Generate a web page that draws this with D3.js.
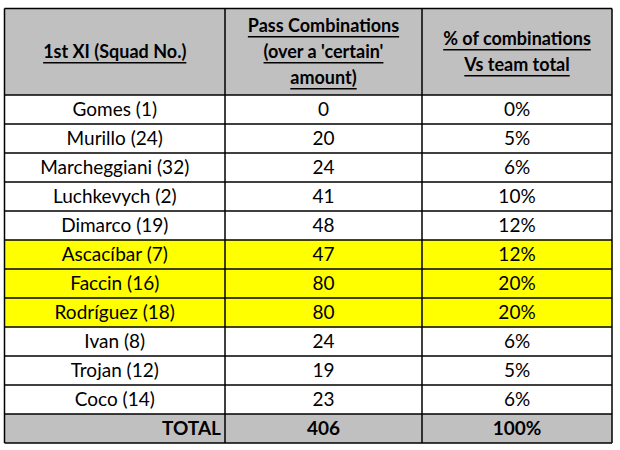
<!DOCTYPE html>
<html><head><meta charset="utf-8">
<script src="https://cdn.jsdelivr.net/npm/d3@7"></script>
<style>body{margin:0;background:#fff}</style></head>
<body><svg id="c" width="620" height="450"></svg>
<script>
const headers = [["1st XI (Squad No.)"], ["Pass Combinations","(over a 'certain'","amount)"], ["% of combinations","Vs team total"]];
const players = ["Gomes (1)","Murillo (24)","Marcheggiani (32)","Luchkevych (2)","Dimarco (19)","Ascacíbar (7)","Faccin (16)","Rodríguez (18)","Ivan (8)","Trojan (12)","Coco (14)"];
const combos = [0,20,24,41,48,47,80,80,24,19,23];
const pcts = ["0%","5%","6%","10%","12%","12%","20%","20%","6%","5%","6%"];
const highlighted = ["Ascacíbar (7)","Faccin (16)","Rodríguez (18)"];
const totalRow = ["TOTAL","406","100%"];

(function(){
const svg = d3.select("#c");
const colEdges = [4.5, 225, 422, 612];
const topY = 8.5, headerBottom = 95, rowH = 29;
const font = "Lato, 'Open Sans', sans-serif";
const rows = players.map((p,i)=>({cells:[p, String(combos[i]), pcts[i]], fill: highlighted.includes(p) ? "#ffff00" : "#fff", bold:false}));
rows.push({cells: totalRow, fill:"#c0c0c0", bold:true, total:true});
const y = d3.scaleBand().domain(d3.range(rows.length)).range([headerBottom, headerBottom + rowH*rows.length]);

svg.append("rect").attr("x",colEdges[0]).attr("y",topY).attr("width",colEdges[3]-colEdges[0]).attr("height",headerBottom-topY).attr("fill","#c0c0c0");
headers.forEach((lines,c)=>{
  const cx=(colEdges[c]+colEdges[c+1])/2, lh=26;
  const cy=(topY+headerBottom)/2 - (lines.length-1)*lh/2;
  lines.forEach((t,k)=>{
    const txt=svg.append("text").attr("x",cx).attr("y",cy+k*lh).attr("dy","0.35em").attr("text-anchor","middle")
      .attr("font-family",font).attr("font-weight","bold").attr("font-size",18).attr("fill","#000").text(t);
    const w=txt.node().getComputedTextLength();
    svg.append("line").attr("x1",cx-w/2).attr("x2",cx+w/2).attr("y1",cy+k*lh+11).attr("y2",cy+k*lh+11).attr("stroke","#000").attr("stroke-width",1.3);
  });
});

const g = svg.selectAll("g.row").data(rows).join("g").attr("class","row");
g.append("rect").attr("x",colEdges[0]).attr("y",(d,i)=>y(i)).attr("width",colEdges[3]-colEdges[0]).attr("height",rowH).attr("fill",d=>d.fill);
g.each(function(d,i){
  d.cells.forEach((t,c)=>{
    const right = d.total && c===0;
    d3.select(this).append("text")
      .attr("x", right ? colEdges[1]-4 : (colEdges[c]+colEdges[c+1])/2)
      .attr("y", y(i)+rowH/2).attr("dy","0.36em")
      .attr("text-anchor", right ? "end" : "middle")
      .attr("font-family",font).attr("font-size",19).attr("font-weight",d.bold?"bold":"normal")
      .attr("fill","#000").text(t);
  });
});

const bottom = headerBottom + rowH*rows.length;
[topY, headerBottom, ...rows.map((d,i)=>y(i)+rowH)].forEach(yy=>
  svg.append("line").attr("x1",colEdges[0]).attr("x2",colEdges[3]).attr("y1",yy).attr("y2",yy).attr("stroke","#000").attr("stroke-width",1.5));
colEdges.forEach(xx=>
  svg.append("line").attr("x1",xx).attr("x2",xx).attr("y1",topY).attr("y2",bottom).attr("stroke","#000").attr("stroke-width",1.5));
})();
</script></body></html>
